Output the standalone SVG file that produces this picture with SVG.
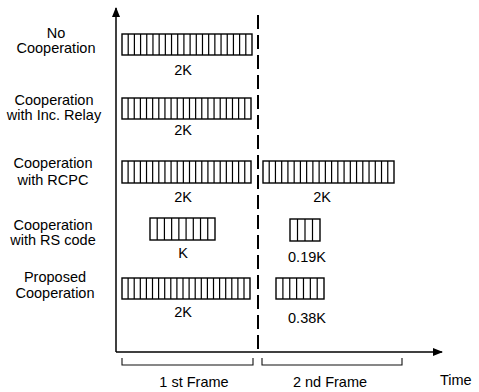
<svg xmlns="http://www.w3.org/2000/svg" width="479" height="392" viewBox="0 0 479 392">
<defs>
<marker id="arr" viewBox="0 0 10 8" refX="9" refY="4" markerWidth="10" markerHeight="8" markerUnits="userSpaceOnUse" orient="auto">
<path d="M0,0 L10,4 L0,8 Z" fill="#000"/>
</marker>
</defs>
<style>
text{font-family:"Liberation Sans",Arial,sans-serif;font-size:14.5px;fill:#000}
.lbl{text-anchor:middle}
.bar{fill:#fff;stroke:#000;stroke-width:1.4}
.st{stroke:#000;fill:none}
.ax{stroke:#000;stroke-width:1.5;fill:none}
.br{stroke:#111;stroke-width:1.1;fill:none}
</style>
<rect width="479" height="392" fill="#fff"/>
<g id="connectors">
<line class="ax" x1="116" y1="352" x2="116" y2="8" marker-end="url(#arr)"/>
<line class="ax" x1="116" y1="352" x2="442" y2="352" marker-end="url(#arr)"/>
<line x1="258" y1="15" x2="258" y2="352" stroke="#000" stroke-width="2" stroke-dasharray="14 6"/>
<path class="br" d="M122,358 V365 H253 V358"/>
<path class="br" d="M262,358 V365 H402 V358"/>
</g>
<g id="row-no-cooperation">
<text class="lbl" x="56" y="38">No</text>
<text class="lbl" x="56" y="53">Cooperation</text>
<rect class="bar" x="122" y="34" width="130" height="21"/>
<line class="st" x1="127.6" y1="44.5" x2="251" y2="44.5" stroke-width="21" stroke-dasharray="1.2 4.99"/>
<text class="lbl" x="183" y="75">2K</text>
</g>
<g id="row-inc-relay">
<text class="lbl" x="54" y="105">Cooperation</text>
<text class="lbl" x="54" y="120">with Inc. Relay</text>
<rect class="bar" x="122" y="98" width="129" height="21"/>
<line class="st" x1="127.5" y1="108.5" x2="250" y2="108.5" stroke-width="21" stroke-dasharray="1.2 4.94"/>
<text class="lbl" x="183" y="135">2K</text>
</g>
<g id="row-rcpc">
<text class="lbl" x="53" y="168">Cooperation</text>
<text class="lbl" x="53" y="185">with RCPC</text>
<rect class="bar" x="122" y="161" width="129" height="22"/>
<line class="st" x1="127.5" y1="172" x2="250" y2="172" stroke-width="22" stroke-dasharray="1.2 4.94"/>
<rect class="bar" x="263" y="161" width="131" height="22"/>
<line class="st" x1="268.6" y1="172" x2="393" y2="172" stroke-width="22" stroke-dasharray="1.2 5.04"/>
<text class="lbl" x="183" y="202">2K</text>
<text class="lbl" x="322" y="202">2K</text>
</g>
<g id="row-rs-code">
<text class="lbl" x="53" y="230">Cooperation</text>
<text class="lbl" x="53" y="245">with RS code</text>
<rect class="bar" x="150" y="218" width="65" height="22"/>
<line class="st" x1="156.6" y1="229" x2="214" y2="229" stroke-width="22" stroke-dasharray="1.2 6.02"/>
<rect class="bar" x="290" y="219" width="30" height="22"/>
<line class="st" x1="296.9" y1="230" x2="319" y2="230" stroke-width="22" stroke-dasharray="1.2 6.3"/>
<text class="lbl" x="183" y="258">K</text>
<text class="lbl" x="307" y="262">0.19K</text>
</g>
<g id="row-proposed">
<text class="lbl" x="55" y="282">Proposed</text>
<text class="lbl" x="55" y="298">Cooperation</text>
<rect class="bar" x="122" y="278" width="128" height="21"/>
<line class="st" x1="127.5" y1="288.5" x2="249" y2="288.5" stroke-width="21" stroke-dasharray="1.2 4.9"/>
<rect class="bar" x="276" y="278" width="48" height="21"/>
<line class="st" x1="282.3" y1="288.5" x2="323" y2="288.5" stroke-width="21" stroke-dasharray="1.2 5.66"/>
<text class="lbl" x="183" y="317">2K</text>
<text class="lbl" x="307" y="323">0.38K</text>
</g>
<g id="axis-labels">
<text class="lbl" x="194" y="387">1 st Frame</text>
<text class="lbl" x="330" y="387">2 nd Frame</text>
<text x="440" y="385">Time</text>
</g>
</svg>
